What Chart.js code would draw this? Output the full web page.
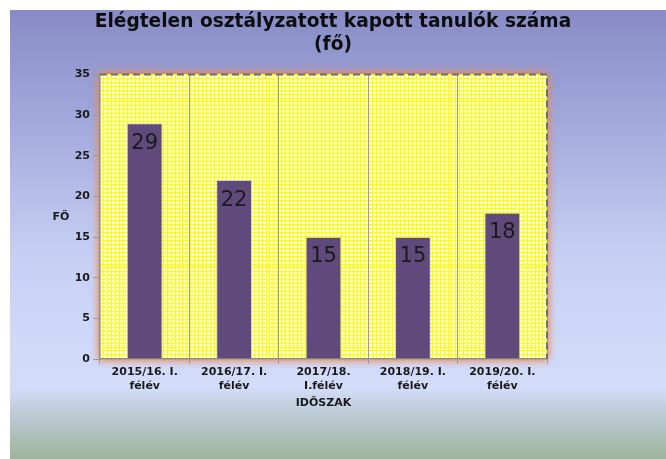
<!DOCTYPE html>
<html>
<head>
<meta charset="utf-8">
<script src="https://cdn.jsdelivr.net/npm/chart.js@4"></script>
<style>
  html, body { margin: 0; padding: 0; background: #ffffff; }
  #wrap {
    position: absolute; left: 10px; top: 10px; width: 656px; height: 449px;
    background: linear-gradient(to bottom, #888bc6 0%, #a3a9dc 25%, #c7d0f3 55%, #d3ddfa 84%, #b9c8cf 91%, #9db49c 100%);
  }
  canvas { display: block; }
</style>
</head>
<body>
<div id="wrap"><canvas id="c" width="656" height="449"></canvas></div>
<script>
const categories = [
  ['2015/16. I.', 'félév'],
  ['2016/17. I.', 'félév'],
  ['2017/18.', 'I.félév'],
  ['2018/19. I.', 'félév'],
  ['2019/20. I.', 'félév']
];
const values = [29, 22, 15, 15, 18];
const titleLines = ['Elégtelen osztályzatott kapott tanulók száma', '(fő)'];
const xTitle = 'IDŐSZAK';
const yTitle = 'FŐ';
const yMin = 0, yMax = 35, yStep = 5;

const FONT = "'DejaVu Sans', Verdana, sans-serif";

const plotDecor = {
  id: 'plotDecor',
  beforeDraw(chart) {
    const a = chart.chartArea, ctx = chart.ctx;
    ctx.save();
    ctx.shadowColor = 'rgba(236,135,80,0.9)';
    ctx.shadowBlur = 8;
    ctx.fillStyle = '#ffffff';
    ctx.fillRect(a.left, a.top, a.right - a.left, a.bottom - a.top);
    ctx.fillRect(a.left, a.top, a.right - a.left, a.bottom - a.top);
    ctx.restore();
  },
  afterDatasetsDraw(chart) {
    const ctx = chart.ctx, a = chart.chartArea;
    const meta = chart.getDatasetMeta(0);
    ctx.save();
    ctx.font = "21px " + FONT;
    ctx.fillStyle = '#1a1a1a';
    ctx.textAlign = 'center';
    ctx.textBaseline = 'middle';
    meta.data.forEach((bar, i) => {
      ctx.fillText(String(chart.data.datasets[0].data[i]), bar.x, bar.y + 20);
    });
    ctx.restore();
    ctx.save();
    ctx.strokeStyle = '#6e6e6e';
    ctx.lineWidth = 2;
    ctx.setLineDash([7, 4]);
    ctx.beginPath();
    ctx.moveTo(a.left, a.top);
    ctx.lineTo(a.right, a.top);
    ctx.lineTo(a.right, a.bottom);
    ctx.stroke();
    ctx.restore();
    ctx.save();
    ctx.font = "bold 11px " + FONT;
    ctx.fillStyle = '#1a1a1a';
    ctx.textAlign = 'center';
    ctx.textBaseline = 'middle';
    ctx.fillText(yTitle, 51, (a.top + a.bottom) / 2);
    ctx.restore();
  }
};

// decorative fine grid: one cell per 4 px of the plot area
const gridCell = 4;

const chart = new Chart(document.getElementById('c'), {
  type: 'bar',
  data: {
    labels: categories,
    datasets: [{
      data: values,
      backgroundColor: '#604a7b',
      borderColor: 'rgba(190,185,200,0.7)',
      borderWidth: 1,
      barPercentage: 0.4,
      categoryPercentage: 1
    }]
  },
  options: {
    responsive: false,
    animation: false,
    devicePixelRatio: 1,
    layout: { padding: { left: 0, right: 10, top: 0, bottom: 0 } },
    plugins: {
      legend: { display: false },
      tooltip: { enabled: false },
      title: {
        display: true,
        text: titleLines,
        color: '#0d0d0d',
        font: { family: FONT, size: 18.6, weight: 'bold', lineHeight: 1.22 },
        padding: { top: 1, bottom: 18 }
      }
    },
    scales: {
      x: {
        type: 'category',
        offset: true,
        grid: {
          offset: true,
          color: (ctx) => ctx.index === categories.length ? 'rgba(0,0,0,0)' : '#9a9a9a',
          lineWidth: 1,
          drawTicks: true,
          tickLength: 5,
          tickColor: '#9a9a9a'
        },
        border: { display: true, color: '#8c8c8c', width: 1.5 },
        ticks: {
          color: '#1a1a1a',
          font: { family: FONT, size: 11, weight: 'bold', lineHeight: 1.2 },
          padding: 2,
          maxRotation: 0,
          autoSkip: false
        },
        title: {
          display: true,
          text: xTitle,
          color: '#1a1a1a',
          font: { family: FONT, size: 11, weight: 'bold', lineHeight: 1.2 },
          padding: { top: 2, bottom: 49 }
        },
        afterFit(scale) { scale.height = 100; }
      },
      y: {
        type: 'linear',
        min: yMin, max: yMax,
        grid: {
          drawOnChartArea: false,
          drawTicks: true,
          tickLength: 7,
          tickColor: '#9a9a9a'
        },
        border: { display: true, color: '#8c8c8c', width: 1.5 },
        ticks: {
          stepSize: yStep,
          color: '#1a1a1a',
          font: { family: FONT, size: 11, weight: 'bold' },
          padding: 3
        },
        afterFit(scale) { scale.width = 90; }
      },
      yRightSpace: {
        type: 'linear',
        position: 'right',
        min: yMin, max: yMax,
        grid: { display: false, drawTicks: false },
        border: { display: false },
        ticks: { display: false },
        afterFit(scale) { scale.width = 109; }
      },
      x2: {
        type: 'linear',
        position: 'bottom',
        min: 0,
        grid: { color: '#ffff00', lineWidth: 1.2, drawTicks: false, z: -2 },
        border: { display: false },
        ticks: { display: false, stepSize: 1, autoSkip: false, maxTicksLimit: 1000 },
        afterFit(scale) { scale.height = 0; },
        afterDataLimits(scale) {
          const ca = scale.chart.chartArea;
          scale.min = 0; scale.max = (ca && ca.right > ca.left ? ca.right - ca.left : 447) / gridCell;
        }
      },
      y2: {
        type: 'linear',
        position: 'left',
        min: 0,
        grid: { color: '#ffff00', lineWidth: 1.2, drawTicks: false, z: -2 },
        border: { display: false },
        ticks: { display: false, stepSize: 1, autoSkip: false, maxTicksLimit: 1000 },
        afterFit(scale) { scale.width = 0; },
        afterDataLimits(scale) {
          const ca = scale.chart.chartArea;
          scale.min = 0; scale.max = (ca && ca.bottom > ca.top ? ca.bottom - ca.top : 284) / gridCell;
        }
      }
    }
  },
  plugins: [plotDecor]
});
chart.update();
</script>
</body>
</html>
